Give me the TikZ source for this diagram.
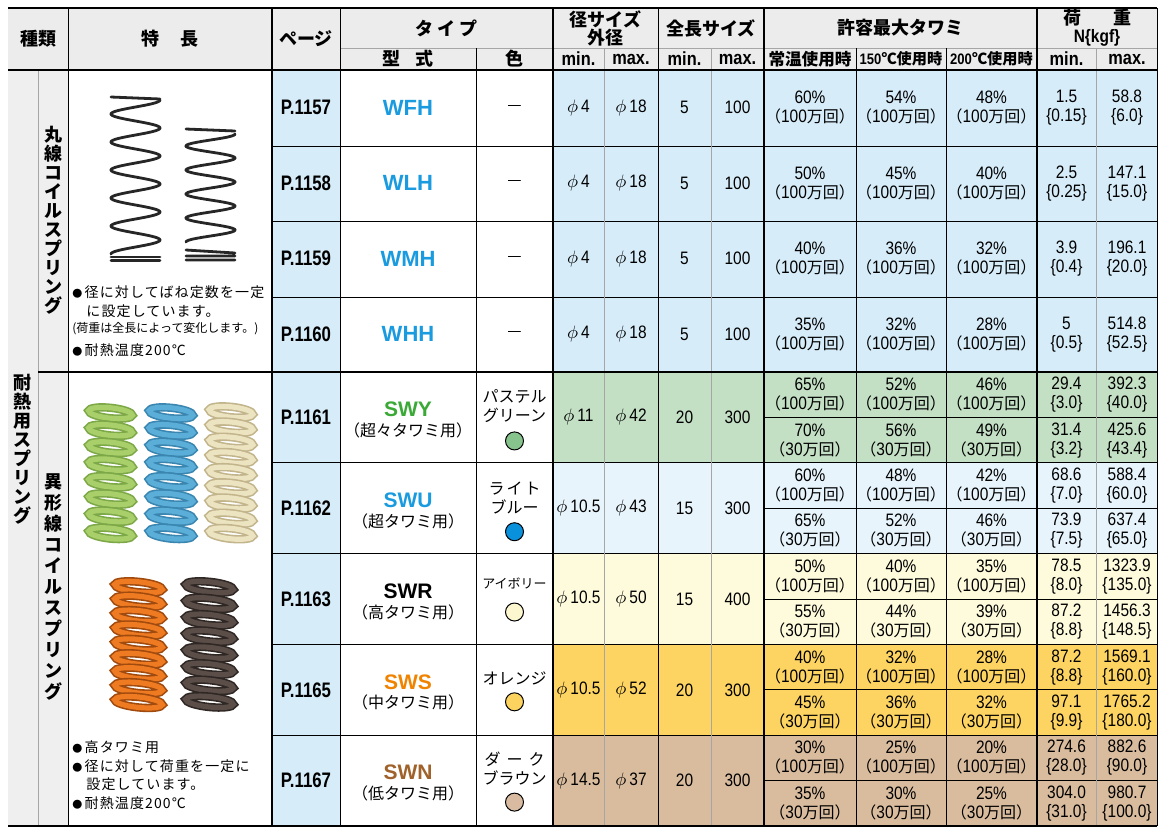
\documentclass[tikz,border=0pt]{standalone}
\usepackage{fontspec}
\setmainfont{Noto Sans CJK JP}
\newfontfamily\nf[FakeStretch=0.86]{Liberation Sans}
\newfontfamily\pf[FakeStretch=0.8]{Liberation Sans}
\newfontfamily\wf{Liberation Sans}
\newfontfamily\jpw[LetterSpace=8]{Noto Sans CJK JP}
\usetikzlibrary{positioning}

\definecolor{hdrgray}{HTML}{ECECEC}
\definecolor{sidegray}{HTML}{EFEFEF}
\definecolor{pageblue}{HTML}{D6ECF9}
\definecolor{rowgreen}{HTML}{C3DFC4}
\definecolor{rowblue}{HTML}{E7F4FC}
\definecolor{rowivory}{HTML}{FEFADC}
\definecolor{roworange}{HTML}{FDD462}
\definecolor{rowtan}{HTML}{D9BC9E}
\definecolor{wblue}{HTML}{1A9BE0}
\definecolor{sgreen}{HTML}{3AA935}
\definecolor{sorange}{HTML}{F08300}
\definecolor{sbrown}{HTML}{A0622A}
\definecolor{dotgreen}{HTML}{86C38D}
\definecolor{dotblue}{HTML}{0A91DC}
\definecolor{dotivory}{HTML}{FDF7D0}
\definecolor{dotorange}{HTML}{FDD35F}
\definecolor{dottan}{HTML}{D8BBA0}
\definecolor{gring}{HTML}{A8CF6A}
\definecolor{gedge}{HTML}{7DA847}
\definecolor{bring}{HTML}{5AAED8}
\definecolor{bedge}{HTML}{3A86B0}
\definecolor{iring}{HTML}{ECE3C0}
\definecolor{iedge}{HTML}{C2B58C}
\definecolor{oring}{HTML}{EE7A22}
\definecolor{oedge}{HTML}{A04A0E}
\definecolor{dring}{HTML}{5B4D47}
\definecolor{dedge}{HTML}{2F2724}

\newcommand{\jpsz}{\rmfamily\fontsize{8}{9.5}\selectfont}
\newcommand{\cyc}[2]{#1\%\\{\jpsz （}#2{\jpsz 万回）}}
\newcommand{\kg}[2]{#1\\\{#2\}}
\newcommand{\dia}[1]{\(\phi\)\,#1}
% cx, ytop, last index, pitch, x radius, ring colour, edge colour
\newcommand{\diespring}[7]{%
  \foreach \k in {0,...,#3}{
    \draw[#7, line width=4.2pt, shift={(#1,{#2+\k*#4})}, rotate=-6] (0,0) ellipse [x radius=#5, y radius=2.6pt];
    \draw[#6, line width=2.6pt, shift={(#1,{#2+\k*#4})}, rotate=-6] (0,0) ellipse [x radius=#5, y radius=2.6pt];
  }}

\begin{document}
\begin{tikzpicture}[x=0.5pt,y=-0.5pt,
  grid/.style={line width=0.5pt},
  gline/.style={gray!70, line width=0.5pt},
  hdr/.style={font=\bfseries\fontsize{9}{9}\selectfont, align=center, inner sep=0pt},
  hdrn/.style={font=\nf\bfseries\fontsize{9.5}{9}\selectfont, inner sep=0pt},
  pg/.style={font=\pf\bfseries\fontsize{10.5}{11}\selectfont, inner sep=0pt},
  model/.style={font=\wf\bfseries\fontsize{11}{12}\selectfont, inner sep=0pt},
  sub/.style={font=\fontsize{8}{9.5}\selectfont, align=center, inner sep=0pt},
  val/.style={font=\nf\fontsize{9}{9.5}\selectfont, align=center, inner sep=0pt},
  note/.style={font=\jpw\fontsize{7}{8}\selectfont, anchor=west, inner sep=0pt},
  vtext/.style={font=\bfseries\fontsize{9}{9.5}\selectfont, align=center, inner sep=0pt},
  dot/.style={circle, draw, line width=0.5pt, minimum size=9pt, inner sep=0pt},
  wire/.style={black!85, line width=1.4pt, line cap=round}]
\useasboundingbox (0,0) rectangle (1161,827);
\fill[white] (0,0) rectangle (1161,827);

% cell fills
\fill[hdrgray] (8,8) rectangle (1157,70);
\fill[sidegray] (8,70) rectangle (68,826);
\fill[pageblue] (272,70) rectangle (340,826);
\fill[pageblue] (553,70) rectangle (1157,372);
\foreach \c [count=\i] in {rowgreen,rowblue,rowivory,roworange,rowtan}
  \fill[\c] (553,{372+(\i-1)*90.8}) rectangle (1157,{372+\i*90.8});

% rules
\foreach \yy in {146,221,297,462.8,553.6,644.4,735.2} \draw[grid] (272,\yy) -- (1157,\yy);
\foreach \yy in {417.4,508.2,599,689.8,780.6} \draw[grid] (764,\yy) -- (1157,\yy);
\draw[gline] (340,48) -- (1157,48);
\foreach \xx in {476,856,946} \draw[grid] (\xx,48) -- (\xx,826);
\foreach \xx in {604,711,1096} \draw[gline] (\xx,48) -- (\xx,826);
\draw[gline] (38,70) -- (38,826);
\foreach \xx in {68,340,658,1157} \draw[grid] (\xx,8) -- (\xx,826);
\foreach \xx in {272,553,764,1037} \draw[line width=0.8pt] (\xx,8) -- (\xx,826);
\draw[line width=1.1pt] (8,8) -- (1157,8);
\draw[line width=1.1pt] (8,70) -- (1157,70);
\draw[line width=1.1pt] (38,372) -- (1157,372);
\draw[line width=1.1pt] (8,826) -- (1157,826);

% header
\node[hdr] (kind) at (38,39) {種類};
\node[hdr] (feat) at (170,39) {特\hspace{11pt}長};
\node[hdr] (page) at (306,39) {ページ};
\node[hdr] (type) at (446.5,28) {タ\hspace{2pt}イ\hspace{2pt}プ};
\node[hdr] (form) at (408,59) {型\hspace{8pt}式};
\node[hdr] (colr) at (514.5,59) {色};
\node[hdr] (dia) at (605.5,28) {径サイズ\\外径};
\node[hdr] (len) at (711,28) {全長サイズ};
\node[hdr] (defl) at (900.5,28) {許容最大タワミ};
\node[hdr] (load) at (1097,28) {荷\hspace{16pt}重\\\textbf{\nf N\{kgf\}}};
\node[hdrn] (dmin) at (578.5,59) {min.};
\node[hdrn] (dmax) at (631,59) {max.};
\node[hdrn] (lmin) at (684.5,59) {min.};
\node[hdrn] (lmax) at (737.5,59) {max.};
\node[hdrn] (pmin) at (1066.5,59) {min.};
\node[hdrn] (pmax) at (1127,59) {max.};
\node[hdr, font=\bfseries\fontsize{8.3}{9}\selectfont] (troom) at (810,59) {常温使用時};
\node[hdr, font=\bfseries\fontsize{7.6}{9}\selectfont] (t150) at (901,59) {{\nf\bfseries 150}℃使用時};
\node[hdr, font=\bfseries\fontsize{7.6}{9}\selectfont] (t200) at (991.5,59) {{\nf\bfseries 200}℃使用時};

% side labels
\node[vtext] (round) at (53,220) {丸\\線\\コ\\イ\\ル\\ス\\プ\\リ\\ン\\グ};
\node[vtext] (heat) at (22.5,449) {耐\\熱\\用\\ス\\プ\\リ\\ン\\グ};
\node[vtext, font=\bfseries\fontsize{9}{10.5}\selectfont] (shaped) at (53,587) {異\\形\\線\\コ\\イ\\ル\\ス\\プ\\リ\\ン\\グ};

% wire springs
\draw[wire] (111,97) -- (160,99);
\draw[wire] plot[domain=0:1980, samples=220, variable=\t] ({135.5+24.5*cos(\t)},{100+\t/360*28});
\draw[wire] (111,257) -- (160,257) (111,260.5) -- (160,260.5);
\draw[wire] (186,129) -- (235,131);
\draw[wire] plot[domain=0:1620, samples=180, variable=\t] ({210.5+24.5*cos(\t)},{134+\t/360*24});
\draw[wire] (186,250) -- (235,253) (186,256) -- (235,256) (186,260) -- (235,260);

% die springs
\diespring{110.5}{413}{7}{17.2}{11pt}{gring}{gedge}
\diespring{171}{413}{7}{17.2}{11pt}{bring}{bedge}
\diespring{231}{412}{8}{15.2}{11pt}{iring}{iedge}
\diespring{138.5}{587}{8}{14.4}{12pt}{oring}{oedge}
\diespring{209.5}{587}{7}{16.4}{12pt}{dring}{dedge}

% notes
\node[note] (n1) at (72,292) {{\fontsize{5}{5}\selectfont ●}\,径に対してばね定数を一定};
\node[note] (n2) at (86,311) {に設定しています。};
\node[note, font=\rmfamily\fontsize{6}{8}\selectfont] (n3) at (72,329) {(荷重は全長によって変化します。)};
\node[note] (n4) at (72,350) {{\fontsize{5}{5}\selectfont ●}\,耐熱温度200℃};
\node[note] (n5) at (72,747) {{\fontsize{5}{5}\selectfont ●}\,高タワミ用};
\node[note] (n6) at (72,766) {{\fontsize{5}{5}\selectfont ●}\,径に対して荷重を一定に};
\node[note] (n7) at (86,784) {設定しています。};
\node[note] (n8) at (72,803) {{\fontsize{5}{5}\selectfont ●}\,耐熱温度200℃};

% round wire rows
\foreach \pgn/\mdn/\tA/\tB/\tC/\pA/\kA/\pB/\kB [count=\i] in {
  1157/WFH/60/54/48/1.5/0.15/58.8/6.0,
  1158/WLH/50/45/40/2.5/0.25/147.1/15.0,
  1159/WMH/40/36/32/3.9/0.4/196.1/20.0,
  1160/WHH/35/32/28/5/0.5/514.8/52.5}{
  \pgfmathsetmacro{\yc}{70+(\i-0.5)*75.5}
  \node[pg] (pg\i) at (306,\yc) {P.\pgn};
  \node[model, text=wblue] (md\i) at (408,\yc) {\mdn};
  \node[sub] (co\i) at (514.5,\yc) {—};
  \node[val] (dmin\i) at (578.5,\yc) {\dia{4}};
  \node[val] (dmax\i) at (631,\yc) {\dia{18}};
  \node[val] (lmin\i) at (684.5,\yc) {5};
  \node[val] (lmax\i) at (737.5,\yc) {100};
  \node[val] (ta\i) at (810,\yc) {\cyc{\tA}{100}};
  \node[val] (tb\i) at (901,\yc) {\cyc{\tB}{100}};
  \node[val] (tc\i) at (991.5,\yc) {\cyc{\tC}{100}};
  \node[val] (pa\i) at (1066.5,\yc) {\kg{\pA}{\kA}};
  \node[val] (pb\i) at (1127,\yc) {\kg{\pB}{\kB}};
}

% shaped wire rows
\foreach \pgn/\mdn/\mdc/\utx/\ctx/\tyo/\dcl/\cyo/\dA/\dB/\lA/\lB [count=\i] in {
  1161/SWY/sgreen/超々タワミ用/パステル\\グリーン/-11/dotgreen/23.5/11/42/20/300,
  1162/SWU/wblue/超タワミ用/ラ\hspace{1pt}イ\hspace{1pt}ト\\ブルー/-10.7/dotblue/23.5/10.5/43/15/300,
  1163/SWR/black/高タワミ用/{\fontsize{6.5}{8}\selectfont アイボリー}/-16/dotivory/13/10.5/50/15/400,
  1165/SWS/sorange/中タワミ用/オレンジ/-11/dotorange/12/10.5/52/20/300,
  1167/SWN/sbrown/低タワミ用/ダ\hspace{3pt}ー\hspace{3pt}ク\\ブラウン/-11.6/dottan/21.5/14.5/37/20/300}{
  \pgfmathsetmacro{\yc}{372+(\i-0.5)*90.8}
  \node[pg] (pgl\i) at (306,\yc) {P.\pgn};
  \node[model, font=\wf\bfseries\fontsize{10.5}{11}\selectfont, text=\mdc] (mdl\i) at (408,\yc-8) {\mdn};
  \node[sub] (utl\i) at (408,\yc+13) {（\utx）};
  \node[sub] (ctl\i) at (514.5,\yc+\tyo) {\ctx};
  \node[dot, fill=\dcl] (dotl\i) at (514.5,\yc+\cyo) {};
  \node[val] (dminl\i) at (578.5,\yc) {\dia{\dA}};
  \node[val] (dmaxl\i) at (631,\yc) {\dia{\dB}};
  \node[val] (lminl\i) at (684.5,\yc) {\lA};
  \node[val] (lmaxl\i) at (737.5,\yc) {\lB};
}

% sub rows: deflection and load
\foreach \sA/\sB/\sC/\sN/\sP/\sK/\sQ/\sL [count=\j] in {
  65/52/46/100/29.4/3.0/392.3/40.0,
  70/56/49/30/31.4/3.2/425.6/43.4,
  60/48/42/100/68.6/7.0/588.4/60.0,
  65/52/46/30/73.9/7.5/637.4/65.0,
  50/40/35/100/78.5/8.0/1323.9/135.0,
  55/44/39/30/87.2/8.8/1456.3/148.5,
  40/32/28/100/87.2/8.8/1569.1/160.0,
  45/36/32/30/97.1/9.9/1765.2/180.0,
  30/25/20/100/274.6/28.0/882.6/90.0,
  35/30/25/30/304.0/31.0/980.7/100.0}{
  \pgfmathsetmacro{\ys}{372+(\j-0.5)*45.4}
  \node[val] (tas\j) at (810,\ys) {\cyc{\sA}{\sN}};
  \node[val] (tbs\j) at (901,\ys) {\cyc{\sB}{\sN}};
  \node[val] (tcs\j) at (991.5,\ys) {\cyc{\sC}{\sN}};
  \node[val] (pas\j) at (1066.5,\ys) {\kg{\sP}{\sK}};
  \node[val] (pbs\j) at (1127,\ys) {\kg{\sQ}{\sL}};
}
\end{tikzpicture}
\end{document}
